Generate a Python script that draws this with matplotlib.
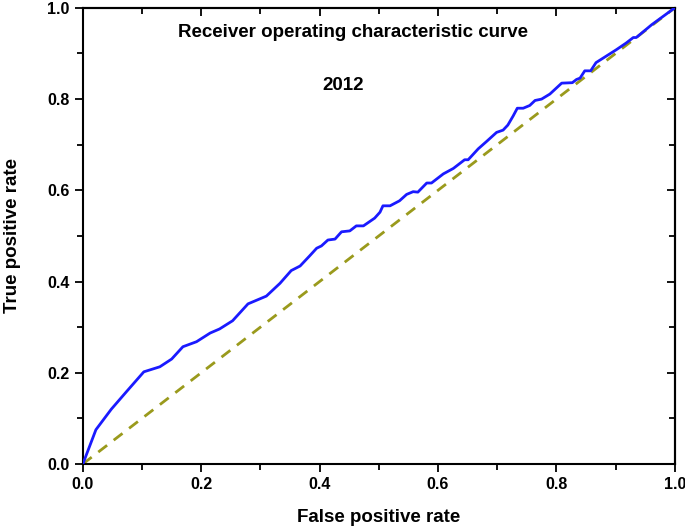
"""ROC curve, 2012 -- blue empirical curve against the dashed chance diagonal."""

import matplotlib
matplotlib.use("Agg")
import matplotlib.pyplot as plt
from matplotlib.ticker import MultipleLocator, FormatStrFormatter, NullFormatter

# curve
fpr = [0.0, 0.022, 0.048, 0.074, 0.103, 0.130, 0.150, 0.169, 0.192, 0.215,
       0.231, 0.253, 0.279, 0.310, 0.333, 0.352, 0.367, 0.383, 0.395, 0.403,
       0.414, 0.426, 0.437, 0.451, 0.462, 0.474, 0.493, 0.502, 0.507, 0.519,
       0.535, 0.547, 0.558, 0.566, 0.581, 0.589, 0.609, 0.626, 0.645, 0.651,
       0.668, 0.682, 0.699, 0.710, 0.718, 0.727, 0.734, 0.744, 0.755, 0.764,
       0.775, 0.789, 0.809, 0.827, 0.834, 0.840, 0.848, 0.858, 0.867, 0.901,
       0.918, 0.930, 0.935, 0.961, 1.0]
tpr = [0.0, 0.075, 0.120, 0.159, 0.202, 0.213, 0.230, 0.257, 0.268, 0.287,
       0.296, 0.314, 0.351, 0.368, 0.396, 0.424, 0.434, 0.456, 0.473, 0.478,
       0.491, 0.493, 0.509, 0.511, 0.522, 0.522, 0.539, 0.552, 0.566, 0.566,
       0.577, 0.591, 0.597, 0.596, 0.616, 0.616, 0.636, 0.648, 0.667, 0.667,
       0.691, 0.707, 0.727, 0.732, 0.743, 0.763, 0.780, 0.780, 0.786, 0.797,
       0.800, 0.811, 0.835, 0.836, 0.843, 0.846, 0.862, 0.862, 0.880, 0.908,
       0.923, 0.935, 0.935, 0.963, 1.0]
chance = [0.0, 1.0]

title_text = "Receiver operating characteristic curve"
year_text = "2012"

plt.rcParams["font.family"] = ["Liberation Sans", "DejaVu Sans"]
plt.rcParams["font.weight"] = "bold"

fig = plt.figure(figsize=(6.85, 5.26), dpi=100)
ax = fig.add_axes([0.121, 0.118, 0.864, 0.867])

ax.plot(chance, chance, color="#9a9a1c", lw=2.0, ls=(0, (4, 3)), zorder=2)
ax.plot(fpr, tpr, color="#1a1aff", lw=2.0, zorder=3)

ax.set_xlim(0, 1)
ax.set_ylim(0, 1)
for axis in (ax.xaxis, ax.yaxis):
    axis.set_major_locator(MultipleLocator(0.2))
    axis.set_minor_locator(MultipleLocator(0.1))
    axis.set_major_formatter(FormatStrFormatter("%.1f"))
ax.tick_params(which="both", direction="out", top=False, right=False,
               width=1.3, labelsize=11.5)
ax.tick_params(which="major", length=6)
ax.tick_params(which="minor", length=4)

# mirror ticks pointing inward on top/right, no labels there
sec_x = ax.secondary_xaxis("top")
sec_y = ax.secondary_yaxis("right")
for sec, axis in ((sec_x, sec_x.xaxis), (sec_y, sec_y.yaxis)):
    axis.set_major_locator(MultipleLocator(0.2))
    axis.set_minor_locator(MultipleLocator(0.1))
    axis.set_major_formatter(NullFormatter())
    sec.tick_params(which="both", direction="in", width=1.3)
    sec.tick_params(which="major", length=6)
    sec.tick_params(which="minor", length=4)
    for sp in sec.spines.values():
        sp.set_linewidth(1.5)
for sp in ax.spines.values():
    sp.set_linewidth(1.5)

ax.set_xlabel("False positive rate", fontsize=13.5, fontweight="bold", labelpad=12)
ax.set_ylabel("True positive rate", fontsize=13.5, fontweight="bold", labelpad=19)

ax.text(0.456, 0.945, title_text, fontsize=13.5, fontweight="bold",
        ha="center", va="center")
ax.text(0.44, 0.829, year_text, fontsize=13.5, fontweight="bold",
        ha="center", va="center")

fig.savefig("out.png", dpi=100)
